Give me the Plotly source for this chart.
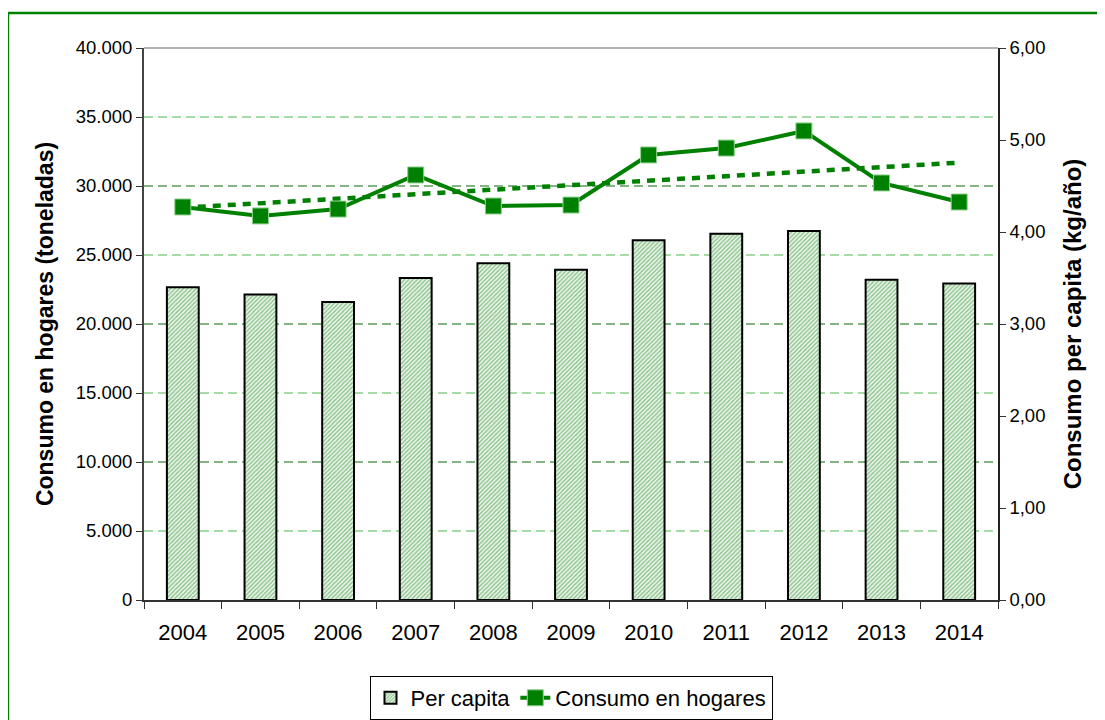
import numpy as np
import plotly.graph_objects as go

years = ["2004", "2005", "2006", "2007", "2008", "2009", "2010", "2011", "2012", "2013", "2014"]
consumo_hogares = [28480, 27830, 28330, 30800, 28550, 28620, 32250, 32750, 33990, 30220, 28840]
per_capita = [3.40, 3.32, 3.24, 3.50, 3.66, 3.59, 3.91, 3.98, 4.01, 3.48, 3.44]

left_ticks = [0, 5000, 10000, 15000, 20000, 25000, 30000, 35000, 40000]
right_ticks = [0, 1, 2, 3, 4, 5, 6]
dark_grid = [10000, 20000, 30000]
light_grid = [5000, 15000, 25000, 35000]
LEFT_MAX, RIGHT_MAX = 40000, 6

# linear trend of household consumption
xi = np.arange(len(years))
slope, intercept = np.polyfit(xi, consumo_hogares, 1)
trend = (slope * xi + intercept).tolist()

GREEN = "#008000"
FONT = "Liberation Sans, Arial, sans-serif"

fig = go.Figure()

fig.add_trace(go.Bar(
    x=years, y=per_capita, name="Per capita", yaxis="y",
    width=0.41,
    marker=dict(
        color="#d8eed8",
        line=dict(color="black", width=2),
        pattern=dict(shape="/", fgcolor="#2e8b2e", bgcolor="#eaf6ea", size=3, solidity=0.45),
    ),
))

fig.add_trace(go.Scatter(
    x=years, y=trend, yaxis="y2", mode="lines", showlegend=False,
    line=dict(color=GREEN, width=4.5, dash="8px,7px"), hoverinfo="skip",
))

fig.add_trace(go.Scatter(
    x=years, y=consumo_hogares, name="Consumo en hogares", yaxis="y2",
    mode="lines+markers",
    line=dict(color=GREEN, width=4),
    marker=dict(symbol="square", size=16, color=GREEN, line=dict(color="#8fd18f", width=1)),
))

# gridlines placed on the left-axis values, drawn beneath the bars
grid_shapes = [
    dict(type="line", xref="paper", yref="y2", x0=0, x1=1, y0=v, y1=v, layer="below",
         line=dict(color="#0a6a0a", width=1.2, dash="9px,5px"))
    for v in dark_grid
] + [
    dict(type="line", xref="paper", yref="y2", x0=0, x1=1, y0=v, y1=v, layer="below",
         line=dict(color="#4cb84c", width=1.2, dash="9px,5px"))
    for v in light_grid
]

fig.update_layout(
    width=1097, height=712,
    margin=dict(l=136, r=107, t=40, b=120, autoexpand=False),
    paper_bgcolor="white", plot_bgcolor="white",
    separators=",.",
    font=dict(family=FONT, size=18, color="black"),
    xaxis=dict(
        type="category", range=[-0.5, len(years) - 0.5], tickson="boundaries",
        ticks="outside", ticklen=7,
        tickcolor="#333", showline=True, linecolor="#333", linewidth=1.5,
        showgrid=False, tickfont=dict(size=22), ticklabelstandoff=12, automargin=False,
    ),
    yaxis=dict(
        side="right", range=[0, RIGHT_MAX], tickvals=right_ticks, tickformat=".2f",
        showgrid=False, zeroline=False, showline=True, linecolor="#222", linewidth=1.5,
        ticks="outside", ticklen=6, tickcolor="#333", tickfont=dict(size=18.5), automargin=False,
        title=dict(text="<b>Consumo per capita (kg/año)</b>", font=dict(size=24), standoff=20),
    ),
    yaxis2=dict(
        side="left", overlaying="y", range=[0, LEFT_MAX], tickvals=left_ticks, tickformat=",d",
        showgrid=False, zeroline=False, showline=True, linecolor="#444", linewidth=2,
        ticks="outside", ticklen=6, tickcolor="#333", tickfont=dict(size=18.5), automargin=False,
        title=dict(text="<b>Consumo en hogares (toneladas)</b>", font=dict(size=23), standoff=16),
    ),
    legend=dict(
        orientation="h", x=0.5, xanchor="center", y=-0.1377, yanchor="top",
        bordercolor="black", borderwidth=1, font=dict(size=22),
        traceorder="normal",
    ),
    shapes=grid_shapes + [
        dict(type="line", xref="paper", yref="paper", x0=0, x1=1, y0=1, y1=1,
             line=dict(color="#999", width=1.5)),
        dict(type="rect", xref="paper", yref="paper", x0=-0.1593, x1=1.1206, y0=-0.23, y1=1.0634,
             line=dict(color=GREEN, width=2.5), layer="below"),
    ],
)

fig.write_html("out.html")
